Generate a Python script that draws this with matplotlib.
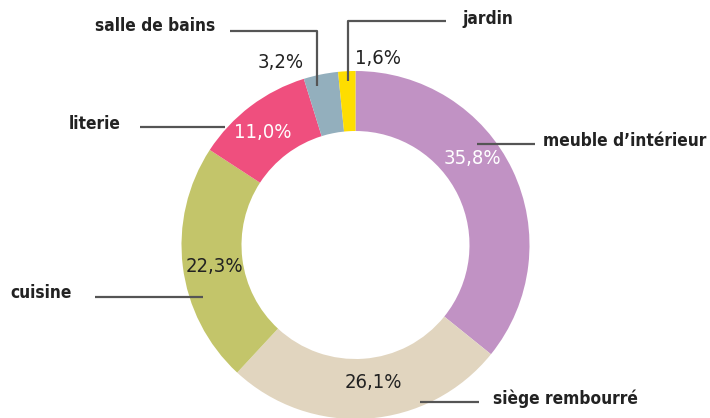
import matplotlib
matplotlib.use("Agg")
import matplotlib.pyplot as plt

categories = ["meuble d\u2019intérieur", "siège rembourré", "cuisine", "literie", "salle de bains", "jardin"]
values = [35.8, 26.1, 22.3, 11.0, 3.2, 1.6]
pct_labels = ["35,8%", "26,1%", "22,3%", "11,0%", "3,2%", "1,6%"]
colors = ["#c192c4", "#e1d5bf", "#c3c56a", "#ef4f7e", "#93afbd", "#fedd00"]
pct_colors = ["white", "#222222", "#222222", "white", "#222222", "#222222"]

W, H = 710, 418
fig = plt.figure(figsize=(W / 100, H / 100), dpi=100)
ax = fig.add_axes([0, 0, 1, 1])

def Y(y):
    return H - y

cx, cy, R, ring = 355.5, 245, 174, 60
ax.pie(values, colors=colors, startangle=90, counterclock=False,
       radius=R, center=(cx, Y(cy)),
       wedgeprops=dict(width=ring, edgecolor="none", linewidth=0))
ax.set_xlim(0, W)
ax.set_ylim(0, H)
ax.set_aspect("equal")
ax.axis("off")

fam = "DejaVu Sans"
# percentage labels (image coords)
pct_pos = [(472, 158), (373, 383), (214, 266), (263, 132), (281, 63), (378, 58)]
for (x, y), t, c in zip(pct_pos, pct_labels, pct_colors):
    ax.text(x, Y(y), t, color=c, fontsize=14.5, family=fam, stretch="condensed",
            ha="center", va="center")

# category labels with leader lines
lc = "#555555"
lw = 1.6
label_specs = [
    ((543, 141), [(477, 144), (535, 144)]),
    ((493, 399), [(420, 402), (479, 402)]),
    ((10, 293), [(95, 297), (203, 297)]),
    ((69, 124), [(140, 127), (225, 127)]),
    ((95, 26), [(230, 31), (317, 31), (317, 86)]),
    ((462, 19), [(446, 21), (348, 21), (348, 81)]),
]
for cat, (tp, line) in zip(categories, label_specs):
    ax.text(tp[0], Y(tp[1]), cat, fontsize=12.4, fontweight="bold", family=fam,
            stretch="condensed", color="#222222", ha="left", va="center")
    xs = [p[0] for p in line]
    ys = [Y(p[1]) for p in line]
    ax.plot(xs, ys, color=lc, lw=lw, solid_capstyle="butt")

fig.savefig("out.png", dpi=100)
